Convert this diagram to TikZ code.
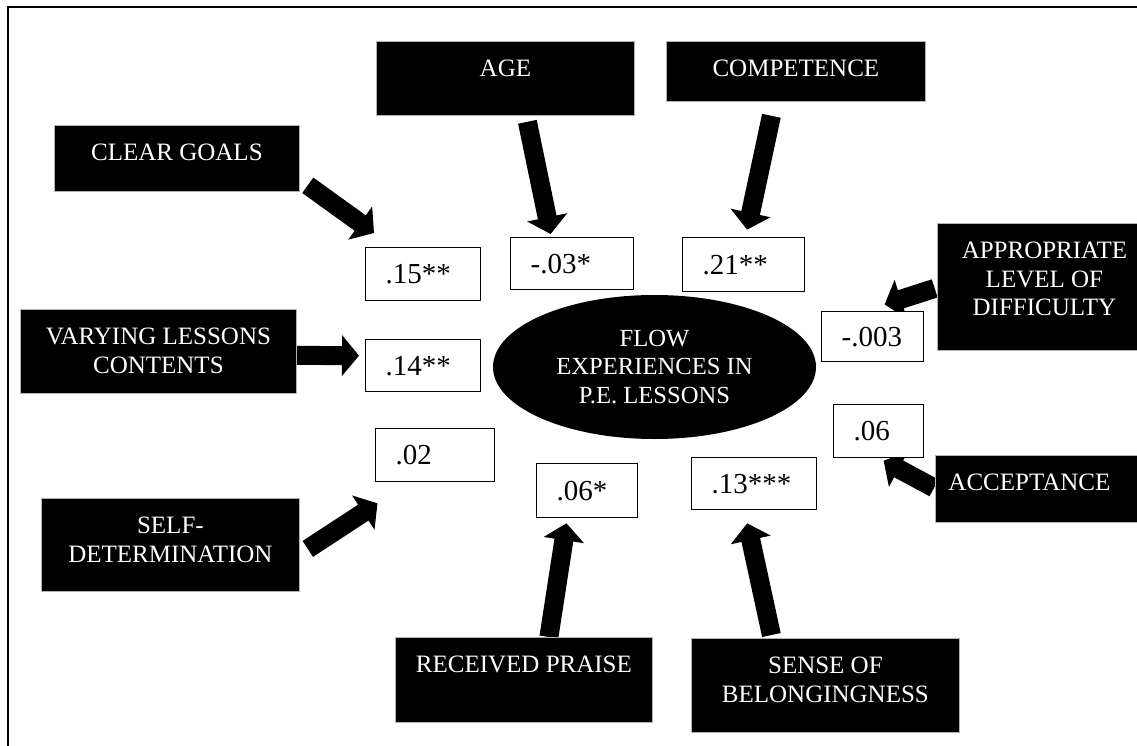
\documentclass[tikz,border=0pt]{standalone}
\usepackage{fontspec}
\setmainfont{Liberation Serif}
\usetikzlibrary{arrows.meta,shapes.geometric,backgrounds}

\tikzset{
	factor/.style={fill=black, draw=gray!60, line width=0.8pt, anchor=north west, inner sep=0pt},
	factortext/.style={anchor=north, yshift=-19pt, inner sep=0pt, text=white, align=center, font=\fontsize{25pt}{28.5pt}\selectfont},
	coef/.style={draw, line width=1.3pt, fill=white, anchor=north west, inner xsep=20pt, inner ysep=0pt, align=left, font=\fontsize{29pt}{34pt}\selectfont},
	outcome/.style={ellipse, fill=black, text=white, align=center, inner sep=0pt, font=\fontsize{24.6pt}{28.5pt}\selectfont},
	effect/.style={line width=19pt, -{Triangle[length=17pt, width=40pt]}},
}

\begin{document}
\begin{tikzpicture}[x=1pt, y=-1pt]
		\useasboundingbox (0,0) rectangle (1137,746);
		\draw[line width=1.3pt] (8,746) -- (8,7) -- (1137,7);
		
		% predictors
		\node[factor, minimum width=245pt, minimum height=66pt, label={[factortext]90:CLEAR GOALS}] (clear) at (54,125) {};
		\node[factor, minimum width=258pt, minimum height=74pt, label={[factortext]90:AGE}] (age) at (376,41) {};
		\node[factor, minimum width=259pt, minimum height=60pt, label={[factortext]90:COMPETENCE}] (comp) at (666,41) {};
		\node[factor, minimum width=214pt, minimum height=127pt, label={[factortext]90:APPROPRIATE\\LEVEL OF\\DIFFICULTY}] (level) at (937,223) {};
		\node[factor, minimum width=276pt, minimum height=84pt, label={[factortext]90:VARYING LESSONS\\CONTENTS}] (vary) at (20,309) {};
		\node[factor, minimum width=258pt, minimum height=93pt, label={[factortext]90:SELF-\\DETERMINATION}] (selfdet) at (41,498) {};
		\node[factor, minimum width=257pt, minimum height=85pt, label={[factortext]90:RECEIVED PRAISE}] (praise) at (395,637) {};
		\node[factor, minimum width=268pt, minimum height=94pt, label={[factortext]90:SENSE OF\\BELONGINGNESS}] (belong) at (691,638) {};
		\node[factor, minimum width=215pt, minimum height=67pt, label={[factortext, xshift=-13.5pt]90:ACCEPTANCE}] (accept) at (935,455) {};
		
		\node[outcome, minimum width=323pt, minimum height=144pt] (flow) at (654.5,367) {FLOW\\EXPERIENCES IN\\P.E. LESSONS};
		
		% coefficients
		\node[coef, text width=75pt, minimum height=53pt] (c15) at (365,247) {.15**};
		\node[coef, text width=83pt, minimum height=52pt] (c03) at (510,237) {-.03*};
		\node[coef, text width=82pt, minimum height=54pt] (c21) at (682,237) {.21**};
		\node[coef, text width=62pt, minimum height=50pt] (c003) at (821,311) {-.003};
		\node[coef, text width=75pt, minimum height=52pt] (c14) at (365,339) {.14**};
		\node[coef, text width=79pt, minimum height=53pt] (c02) at (375,428) {.02};
		\node[coef, text width=50pt, minimum height=53pt] (c06) at (833,404) {.06};
		\node[coef, text width=61pt, minimum height=54pt] (c06s) at (536,463) {.06*};
		\node[coef, text width=85pt, minimum height=52pt] (c13) at (691,457) {.13***};
		
		\begin{scope}[on background layer]
			\draw[effect] ([shift={(8,-6.5)}]clear.south east) to ([shift={(9,-14)}]c15.north west);
			\draw[effect] ([shift={(22,6)}]age.south) to ([shift={(-21.5,-3)}]c03.north);
			\draw[effect] ([shift={(-24.5,14)}]comp.south) to ([shift={(3.4,-7.4)}]c21.north);
			\draw[effect] ([shift={(-2.3,1.5)}]level.west) to ([shift={(12,-6.5)}]c003.north);
			\draw[effect] ([shift={(0,4)}]vary.east) to ([shift={(-6,-10)}]c14.west);
			\draw[effect] ([shift={(8,4)}]selfdet.east) to ([shift={(2.5,21)}]c02.south west);
			\draw[effect] ([shift={(25,0)}]praise.north) to ([shift={(-20.7,5)}]c06s.south);
			\draw[effect] ([shift={(-54,-3)}]belong.north) to ([shift={(-7,13)}]c13.south);
			\draw[effect] ([shift={(-1,-1)}]accept.west) to ([shift={(5,2.5)}]c06.south);
		\end{scope}
		
	\end{tikzpicture}
\end{document}
